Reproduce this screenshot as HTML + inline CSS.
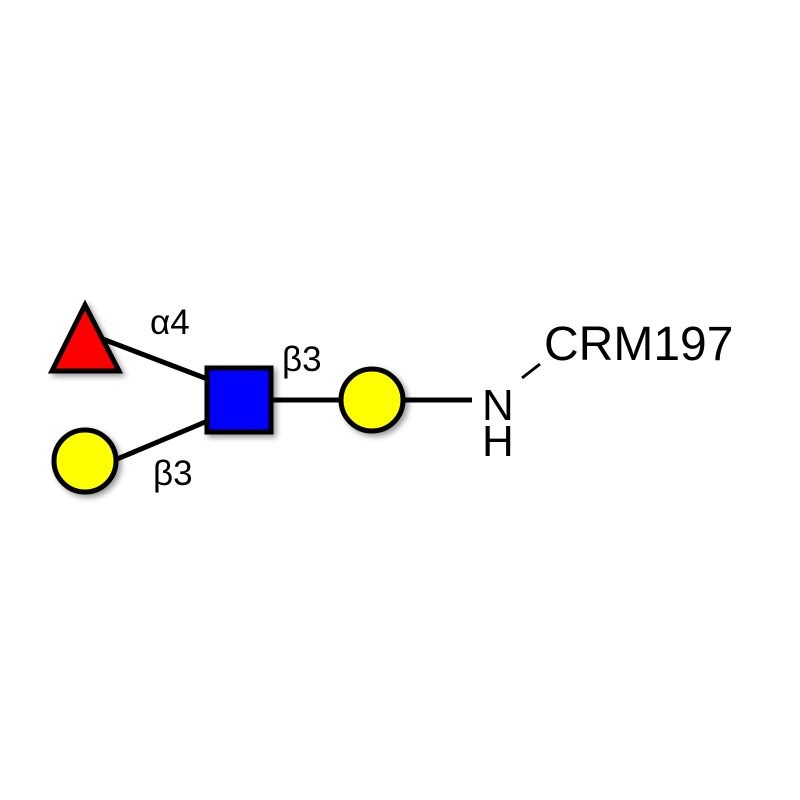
<!DOCTYPE html>
<html><head><style>body{margin:0;background:#fff}svg{display:block}</style></head>
<body>
<svg width="800" height="800" viewBox="0 0 800 800" xmlns="http://www.w3.org/2000/svg">
<defs><filter id="s" x="-30%" y="-30%" width="160%" height="160%"><feGaussianBlur in="SourceAlpha" stdDeviation="3"/><feOffset dx="3" dy="3"/><feComponentTransfer><feFuncA type="linear" slope="0.4"/></feComponentTransfer><feMerge><feMergeNode/><feMergeNode in="SourceGraphic"/></feMerge></filter></defs>
<g stroke="#000" stroke-width="5">
<line x1="100" y1="338" x2="210" y2="380"/>
<line x1="110" y1="462" x2="210" y2="420"/>
<line x1="270" y1="400" x2="345" y2="400"/>
<line x1="400" y1="400" x2="472" y2="400"/>
</g>
<line x1="522" y1="378" x2="540" y2="364" stroke="#000" stroke-width="3"/>
<g stroke="#000" stroke-width="5" filter="url(#s)">
<polygon points="85,305 52,371 119,371" fill="#f00"/>
<rect x="207" y="368" width="64" height="64" fill="#00f"/>
<circle cx="372" cy="400" r="31" fill="#ff0"/>
<circle cx="85" cy="461" r="31" fill="#ff0"/>
</g>
<g font-family="Liberation Sans, DejaVu Sans, sans-serif" fill="#000">
<text x="150" y="334" font-size="35">α4</text>
<text x="282" y="371" font-size="35">β3</text>
<text x="153" y="485" font-size="35">β3</text>
<text x="482" y="420" font-size="44">N</text>
<text x="482" y="456" font-size="44">H</text>
<text x="544" y="360" font-size="48">CRM197</text>
</g>
</svg>
</body></html>
